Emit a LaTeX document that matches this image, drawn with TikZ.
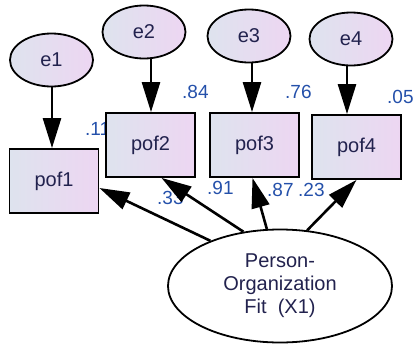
\documentclass[tikz,border=0pt]{standalone}
\usepackage{fontspec}
\setmainfont{Liberation Sans}
\usetikzlibrary{shapes.geometric,arrows.meta}
\definecolor{txt}{HTML}{22224E}
\definecolor{num}{HTML}{2450AA}
\definecolor{fillL}{HTML}{DEE3EE}
\definecolor{fillR}{HTML}{EDD6F2}
\tikzset{
  obs/.style={draw=black, line width=1.8pt, left color=fillL, right color=fillR,
    minimum width=89pt, minimum height=64pt, inner sep=0pt, text=txt,
    font=\fontsize{20}{23}\selectfont},
  err/.style={ellipse, draw=black, line width=1.8pt, left color=fillL, right color=fillR,
    minimum width=83pt, minimum height=53pt, inner sep=0pt, text=txt,
    font=\fontsize{20}{23}\selectfont},
  lat/.style={ellipse, draw=black, line width=1.8pt, fill=white,
    minimum width=224pt, minimum height=113pt, inner sep=0pt, text=txt, align=center,
    font=\fontsize{20}{23}\selectfont},
  arr/.style={line width=2.6pt, -{Triangle[length=30pt,width=18pt]}},
  val/.style={anchor=west, inner sep=0pt, text=num, font=\fontsize{19}{22}\selectfont}
}
\begin{document}
\begin{tikzpicture}[x=1pt,y=-1pt]
\useasboundingbox (0,0) rectangle (418,346);
% labels partially hidden
\node[val] (l11) at (85,129) {.11};
\node[val] (l33) at (157,198) {.33};
% latent
\node[lat] (X1) at (280,286) {Person-\\Organization\\Fit\ \ (X1)};
% errors
\node[err] (e1) at (51.5,60) {e1};
\node[err] (e2) at (144,32) {e2};
\node[err] (e3) at (249,36) {e3};
\node[err] (e4) at (351,39) {e4};
% observed
\node[obs] (p1) at (54,181) {pof1};
\node[obs] (p2) at (150.5,145) {pof2};
\node[obs] (p3) at (254.5,145) {pof3};
\node[obs] (p4) at (356.5,147) {pof4};
% values
\node[val] (l84) at (182,92) {.84};
\node[val] (l76) at (285,92) {.76};
\node[val] (l05) at (387,97) {.05};
\node[val] (l91) at (207,188) {.91};
\node[val] (l87) at (267,190) {.87};
\node[val] (l23) at (298,190) {.23};
% error arrows
\draw[arr] ([xshift=0.5pt]e1.south) -- ([xshift=0.5pt]e1.south |- p1.north);
\draw[arr] ([xshift=7pt]e2.south) -- ([xshift=7pt]e2.south |- p2.north);
\draw[arr] ([xshift=3pt]e3.south) -- ([xshift=3pt]e3.south |- p3.north);
\draw[arr] ([xshift=-4pt]e4.south) -- ([xshift=-4pt]e4.south |- p4.north);
% loadings
\draw[arr] (X1.147) -- ([yshift=-7pt]p1.east);
\draw[arr] (X1.124) -- ([xshift=11pt]p2.south);
\draw[arr] (X1.103) -- ([xshift=-2pt]p3.south);
\draw[arr] (X1.64) -- (p4.south);
\end{tikzpicture}
\end{document}
